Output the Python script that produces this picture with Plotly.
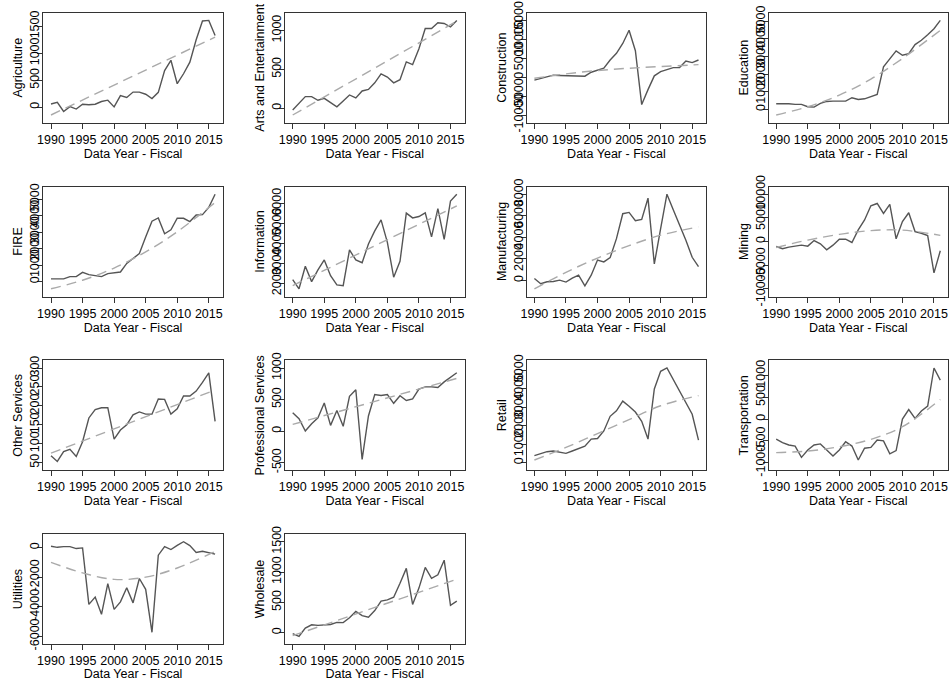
import plotly.graph_objects as go

years = list(range(1990, 2017))
line_fit_years = [1990, 2016]
curve_fit_years = [1990, 1995, 2000, 2005, 2010, 2016]

agriculture = [60, 90, -80, 10, -35, 55, 45, 55, 105, 130, 5, 215, 180, 280, 280, 240, 160, 275, 680, 870, 435, 620, 835, 1250, 1600, 1610, 1330]
arts = [-25, 60, 147, 147, 100, 125, 70, 15, 90, 168, 130, 220, 240, 325, 440, 400, 325, 365, 595, 560, 765, 1025, 1025, 1100, 1090, 1045, 1130]
construction = [-800, -350, 175, 520, 440, 350, 350, 175, 260, 1300, 1750, 2350, 4540, 6300, 8900, 12400, 7000, -7250, -3300, 350, 1480, 1920, 2530, 2530, 4280, 3840, 4540]
education = [320, 340, 320, 283, 283, 150, 130, 340, 450, 470, 490, 470, 660, 565, 600, 735, 850, 2415, 2850, 3320, 3075, 3170, 3680, 3925, 4245, 4585, 5055]
fire = [160, 140, 160, 300, 300, 560, 420, 360, 300, 480, 520, 580, 1100, 1400, 1700, 2700, 3660, 3860, 2900, 3140, 3840, 3840, 3640, 4040, 4060, 4500, 5300]
information = [2180, 1720, 2850, 2080, 2670, 3170, 2380, 1920, 1880, 3670, 3170, 3030, 3970, 4630, 5180, 4050, 2300, 3100, 5520, 5280, 5350, 5530, 4330, 5750, 4200, 6130, 6470]
manufacturing = [180, -300, -120, -90, 30, -150, 215, 490, -490, 490, 1900, 1720, 2120, 3880, 6190, 6310, 5540, 5670, 7630, 1530, 4800, 8000, 6560, 5180, 3740, 2150, 1290]
mining = [-1050, -1540, -1190, -980, -770, -980, 210, -490, -1750, -770, 490, 490, -210, 2450, 4550, 7550, 8040, 5940, 7830, 560, 4200, 6080, 2100, 1750, 1260, -6640, -1960]
other_services = [68, 53, 79, 85, 66, 105, 168, 190, 195, 195, 112, 136, 150, 176, 184, 178, 178, 218, 217, 178, 192, 226, 226, 239, 262, 287, 159]
professional = [290, 195, 0, 115, 210, 445, 90, 325, 75, 550, 655, -450, 240, 580, 565, 580, 440, 560, 485, 510, 665, 700, 700, 690, 780, 850, 925]
retail = [375, 500, 590, 625, 570, 500, 625, 750, 890, 1270, 1300, 1710, 2500, 2800, 3320, 3040, 2730, 2230, 1270, 3980, 4930, 5110, 4480, 3930, 3300, 2610, 1210]
transportation = [-460, -540, -595, -620, -880, -710, -595, -570, -710, -850, -710, -520, -620, -940, -670, -650, -480, -500, -800, -725, 0, 220, 15, 185, 300, 1175, 895]
utilities = [90, 20, 65, 65, -65, -20, -3840, -3350, -4510, -2440, -4180, -3670, -2710, -3740, -2090, -2820, -5730, -510, 65, -130, 155, 400, 135, -330, -245, -330, -445]
wholesale = [-15, -60, 75, 130, 120, 130, 135, 170, 165, 245, 350, 280, 255, 365, 520, 540, 585, 815, 1060, 465, 735, 1075, 895, 955, 1195, 450, 520]

# fitted trend lines
agriculture_fit = [-145, 1300]
arts_fit = [-90, 1120]
construction_fit = [-300, 870, 1750, 2360, 2800, 3300]
education_fit = [-320, 150, 810, 1720, 2890, 4490]
fire_fit = [-440, 80, 820, 1800, 3020, 4800]
information_fit = [1880, 5880]
manufacturing_fit = [-770, 760, 2080, 3230, 4200, 4970]
mining_fit = [-1260, 300, 1500, 2300, 2400, 1300]
other_services_fit = [75, 242]
professional_fit = [105, 835]
retail_fit = [140, 820, 1570, 2320, 3070, 3620]
transportation_fit = [-770, -735, -635, -465, -175, 450]
utilities_fit = [-1000, -1710, -2150, -2000, -1380, -270]
wholesale_fit = [-50, 880]

year_ticks = [1990, 1995, 2000, 2005, 2010, 2015]

panels = [
    ("Agriculture", agriculture, line_fit_years, agriculture_fit, [0, 500, 1000, 1500]),
    ("Arts and Entertainment", arts, line_fit_years, arts_fit, [0, 500, 1000]),
    ("Construction", construction, curve_fit_years, construction_fit, [-10000, -5000, 0, 5000, 10000, 15000]),
    ("Education", education, curve_fit_years, education_fit, [0, 1000, 2000, 3000, 4000, 5000]),
    ("FIRE", fire, curve_fit_years, fire_fit, [0, 1000, 2000, 3000, 4000, 5000]),
    ("Information", information, line_fit_years, information_fit, [2000, 3000, 4000, 5000, 6000]),
    ("Manufacturing", manufacturing, curve_fit_years, manufacturing_fit, [0, 2000, 4000, 6000, 8000]),
    ("Mining", mining, curve_fit_years, mining_fit, [-10000, -5000, 0, 5000, 10000]),
    ("Other Services", other_services, line_fit_years, other_services_fit, [50, 100, 150, 200, 250, 300]),
    ("Professional Services", professional, line_fit_years, professional_fit, [-500, 0, 500, 1000]),
    ("Retail", retail, curve_fit_years, retail_fit, [0, 1000, 2000, 3000, 4000, 5000]),
    ("Transportation", transportation, curve_fit_years, transportation_fit, [-1000, -500, 0, 500, 1000]),
    ("Utilities", utilities, curve_fit_years, utilities_fit, [-6000, -4000, -2000, 0]),
    ("Wholesale", wholesale, line_fit_years, wholesale_fit, [0, 500, 1000, 1500]),
]

W, H = 950, 681
col_left = [43.3, 285, 526.7, 768.5]
row_top = [12.7, 186.5, 360.3, 534]
box_w, box_h = 179.5, 110
margin_px = 7.7

font = "Liberation Sans, Arial, sans-serif"
axis_color = "#333333"

fig = go.Figure()
layout = {}

for i, (name, vals, fit_x, fit_y, yticks) in enumerate(panels):
    r, c = divmod(i, 4)
    n = i + 1
    xa = "x" if n == 1 else "x%d" % n
    ya = "y" if n == 1 else "y%d" % n

    fig.add_trace(go.Scatter(x=years, y=vals, mode="lines", xaxis=xa, yaxis=ya,
                             line=dict(color="#555555", width=1.4), showlegend=False))
    fig.add_trace(go.Scatter(x=fit_x, y=fit_y, mode="lines", xaxis=xa, yaxis=ya,
                             line=dict(color="#aaaaaa", width=1.4, dash="10px,6px",
                                       shape="spline" if len(fit_x) > 2 else "linear"),
                             showlegend=False))

    # axis ranges: data + ticks with a small fixed pixel margin, like Stata
    lo = min(min(vals), min(fit_y), min(yticks))
    hi = max(max(vals), max(fit_y), max(yticks))
    pad = (hi - lo) * margin_px / (box_h - 2 * margin_px)
    xpad = 26 * margin_px / (box_w - 2 * margin_px)

    x0 = col_left[c] / W
    x1 = min((col_left[c] + box_w) / W, 1)
    y1 = 1 - row_top[r] / H
    y0 = 1 - (row_top[r] + box_h) / H

    common = dict(showline=True, mirror=True, linecolor=axis_color, linewidth=1,
                  ticks="outside", ticklen=5, tickcolor=axis_color, showgrid=False,
                  zeroline=False, automargin=False,
                  tickfont=dict(family=font, size=12.5, color="black"))

    layout["xaxis" if n == 1 else "xaxis%d" % n] = dict(
        domain=[x0, x1], anchor=ya, range=[1990 - xpad, 2016 + xpad],
        tickmode="array", tickvals=year_ticks,
        title=dict(text="Data Year - Fiscal", font=dict(family=font, size=12.5, color="black"), standoff=1),
        **common)
    layout["yaxis" if n == 1 else "yaxis%d" % n] = dict(
        domain=[y0, y1], anchor=xa, range=[lo - pad, hi + pad],
        tickmode="array", tickvals=yticks, ticktext=[str(v) for v in yticks], tickangle=-90,
        ticklabelstandoff=-7,
        title=dict(text=name, font=dict(family=font, size=12.5, color="black"), standoff=2),
        **common)

fig.update_layout(width=W, height=H, margin=dict(l=0, r=0, t=0, b=0, autoexpand=False),
                  paper_bgcolor="white", plot_bgcolor="white", **layout)

fig.write_html("out.html", config={"displayModeBar": False},
               post_script="document.body.style.margin='0';document.body.style.overflow='hidden';")
